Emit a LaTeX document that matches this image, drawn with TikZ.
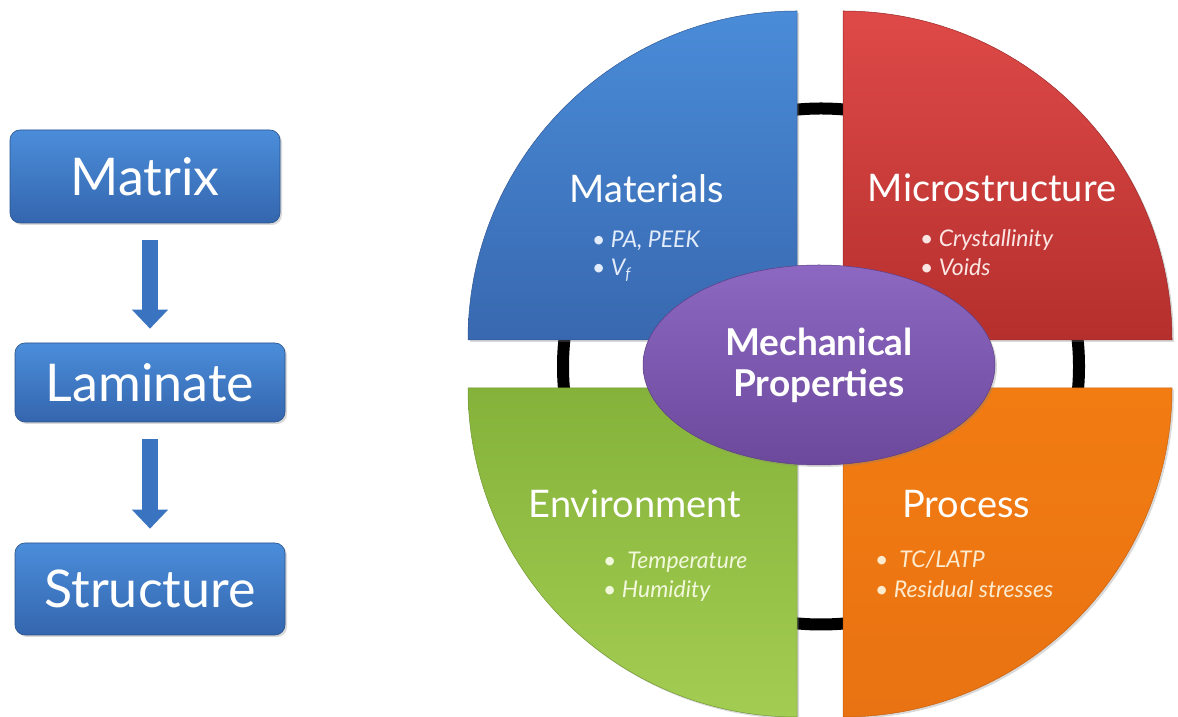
\documentclass[tikz,border=0pt]{standalone}
\usepackage{fontspec}
\setmainfont{Lato}
\usetikzlibrary{shapes.geometric,arrows.meta,shadows}
\definecolor{qblueT}{HTML}{4A8CD8}
\definecolor{qblueB}{HTML}{3868B0}
\definecolor{qredT}{HTML}{DE4A48}
\definecolor{qredB}{HTML}{B52F2D}
\definecolor{qgreenT}{HTML}{85B23A}
\definecolor{qgreenB}{HTML}{A3CD52}
\definecolor{qorangeT}{HTML}{F27C12}
\definecolor{qorangeB}{HTML}{E97212}
\definecolor{qpurpleT}{HTML}{8C68C2}
\definecolor{qpurpleB}{HTML}{6C499C}
\definecolor{boxT}{HTML}{4B8DDA}
\definecolor{boxB}{HTML}{3466AE}
\definecolor{arrowc}{HTML}{3A73C0}
\definecolor{tblue}{HTML}{E2ECFA}
\definecolor{tred}{HTML}{FBE6E4}
\definecolor{tgreen}{HTML}{F2F8DC}
\definecolor{torange}{HTML}{FDEBCF}
\tikzset{
  shad/.style={drop shadow={shadow xshift=2pt,shadow yshift=-2pt,opacity=0.3}},
  lbox/.style={rectangle, rounded corners=10pt, top color=boxT, bottom color=boxB,
    draw=boxB!80!black, line width=0.6pt, shad, text=white,
    font=\fontsize{52}{60}\selectfont, inner sep=0pt},
  barrow/.style={draw=arrowc, line width=16pt,
    -{Triangle[width=35pt,length=19pt]}, shorten <=17pt, shorten >=14pt},
  qtitle/.style={anchor=base, text=white, font=\fontsize{38}{44}\selectfont, inner sep=0pt},
  qbul/.style={anchor=base west, font=\fontsize{23}{26}\selectfont\itshape, inner sep=0pt},
}
\begin{document}
\begin{tikzpicture}[x=1pt,y=1pt]
\useasboundingbox (0,0) rectangle (1178,717);
% ring behind
\draw[line width=12pt, black] (821,350.5) circle (258);
% quadrants
\path[shad, top color=qblueT, bottom color=qblueB, draw=qblueB!85!black, line width=0.5pt]
  (797,377) -- (468,377) arc (180:90:329) -- cycle;
\path[shad, top color=qredT, bottom color=qredB, draw=qredB!85!black, line width=0.5pt]
  (843,377) -- (843,706) arc (90:0:329) -- cycle;
\path[shad, top color=qgreenT, bottom color=qgreenB, draw=qgreenT!85!black, line width=0.5pt]
  (797,329) -- (797,0) arc (270:180:329) -- cycle;
\path[shad, top color=qorangeT, bottom color=qorangeB, draw=qorangeB!85!black, line width=0.5pt]
  (843,329) -- (1172,329) arc (0:-90:329) -- cycle;
% quadrant texts
\node[qtitle] (mat) at (647,514) {Materials};
\node[qbul, text=tblue] (mat1) at (592,469) {• PA, PEEK};
\node[qbul, text=tblue] (mat2) at (592,441) {• V\textsubscript{f}};
\node[qtitle] (mic) at (992,515) {Microstructure};
\node[qbul, text=tred] (mic1) at (920,470) {• Crystallinity};
\node[qbul, text=tred] (mic2) at (920,441) {• Voids};
\node[qtitle] (env) at (635,199) {Environment};
\node[qbul, text=tgreen] (env1) at (603,148) {•\ \ Temperature};
\node[qbul, text=tgreen] (env2) at (603,119) {• Humidity};
\node[qtitle] (pro) at (966,199) {Process};
\node[qbul, text=torange] (pro1) at (875,149) {•\ \ TC/LATP};
\node[qbul, text=torange] (pro2) at (875,119) {• Residual stresses};
% center ellipse
\node[ellipse, shad, minimum width=352pt, minimum height=200pt, inner sep=0pt,
  top color=qpurpleT, bottom color=qpurpleB, draw=qpurpleB!85!black, line width=0.5pt,
  text=white, align=center, font=\fontsize{37}{41}\selectfont\bfseries] (mp) at (819,352)
  {Mechanical\\Properties};
% left chain
\node[lbox, minimum width=270pt, minimum height=93pt] (matrix) at (145,540.5) {Matrix};
\node[lbox, minimum width=270pt, minimum height=79pt] (laminate) at (150,334.5) {Laminate};
\node[lbox, minimum width=270pt, minimum height=92pt] (structure) at (150,128) {Structure};
\draw[barrow] (matrix.south -| laminate.north) -- (laminate.north);
\draw[barrow] (laminate.south) -- (structure.north);
\end{tikzpicture}
\end{document}
